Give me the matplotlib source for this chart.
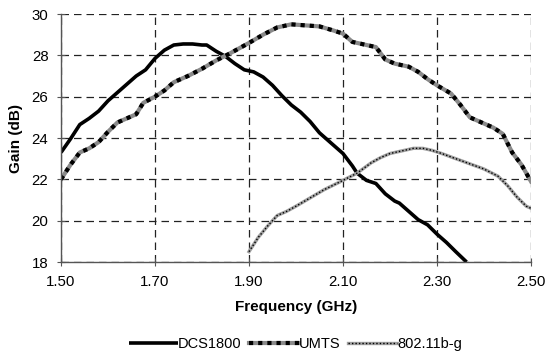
import numpy as np
import matplotlib.pyplot as plt

plt.rcParams['font.family'] = ['Liberation Sans', 'DejaVu Sans']

# DCS1800 band
dcs_f = [1.50, 1.52, 1.54, 1.56, 1.58, 1.60, 1.62, 1.64, 1.66, 1.68, 1.70, 1.72,
         1.74, 1.76, 1.78, 1.80, 1.81, 1.83, 1.85, 1.87, 1.89, 1.91, 1.93, 1.95,
         1.97, 1.99, 2.01, 2.03, 2.05, 2.07, 2.09, 2.10, 2.12, 2.13, 2.15, 2.17,
         2.19, 2.21, 2.22, 2.24, 2.26, 2.28, 2.30, 2.32, 2.34, 2.363]
dcs_g = [23.3, 23.95, 24.65, 24.95, 25.3, 25.8, 26.2, 26.6, 27.0, 27.3, 27.85, 28.25,
         28.5, 28.55, 28.55, 28.5, 28.5, 28.2, 27.95, 27.6, 27.3, 27.2, 26.95, 26.55,
         26.05, 25.6, 25.25, 24.8, 24.25, 23.85, 23.45, 23.25, 22.65, 22.3, 21.95, 21.8,
         21.3, 20.95, 20.85, 20.45, 20.05, 19.8, 19.35, 18.95, 18.5, 18.0]

# UMTS band
umts_f = [1.50, 1.52, 1.54, 1.56, 1.58, 1.60, 1.62, 1.64, 1.66, 1.675, 1.70, 1.72,
          1.74, 1.77, 1.80, 1.83, 1.86, 1.90, 1.93, 1.96, 1.99, 2.02, 2.05, 2.08,
          2.10, 2.12, 2.15, 2.17, 2.19, 2.21, 2.24, 2.26, 2.28, 2.30, 2.33, 2.35,
          2.37, 2.39, 2.42, 2.44, 2.46, 2.48, 2.50]
umts_g = [22.0, 22.7, 23.3, 23.5, 23.8, 24.3, 24.75, 24.95, 25.15, 25.7, 26.0, 26.3,
          26.7, 27.0, 27.35, 27.75, 28.1, 28.6, 29.0, 29.35, 29.5, 29.45, 29.4, 29.2,
          29.05, 28.65, 28.5, 28.4, 27.8, 27.6, 27.45, 27.2, 26.85, 26.55, 26.15, 25.6,
          25.0, 24.8, 24.5, 24.2, 23.3, 22.7, 21.9]

# 802.11b-g band
wlan_f = [1.90, 1.92, 1.94, 1.96, 1.98, 2.00, 2.03, 2.06, 2.10, 2.13, 2.16, 2.18,
          2.20, 2.23, 2.25, 2.27, 2.29, 2.31, 2.34, 2.37, 2.40, 2.43, 2.45, 2.47,
          2.49, 2.50]
wlan_g = [18.5, 19.2, 19.75, 20.25, 20.45, 20.7, 21.1, 21.5, 21.95, 22.3, 22.8, 23.05,
          23.25, 23.4, 23.5, 23.5, 23.4, 23.25, 23.0, 22.75, 22.5, 22.15, 21.7, 21.15,
          20.7, 20.6]

fig = plt.figure(figsize=(5.47, 3.62), dpi=100)
ax = fig.add_axes([0.1115, 0.2762, 0.8592, 0.6851])

h1, = ax.plot(dcs_f, dcs_g, color='black', lw=2.6, solid_capstyle='butt')
h2a, = ax.plot(umts_f, umts_g, color='#8a8a8a', lw=3.0)
h2b, = ax.plot(umts_f, umts_g, color='black', lw=3.0, dashes=(1.0, 1.2))
h3a, = ax.plot(wlan_f, wlan_g, color='#a0a0a0', lw=2.4)
h3b, = ax.plot(wlan_f, wlan_g, color='black', lw=1.0, dashes=(1.0, 1.5))

ax.set_xlim(1.5, 2.5)
ax.set_ylim(18, 30)
ax.set_xticks(np.arange(1.5, 2.51, 0.2))
ax.set_xticklabels(['1.50', '1.70', '1.90', '2.10', '2.30', '2.50'])
ax.set_yticks(np.arange(18, 31, 2))
ax.grid(True, color='#222222', linestyle=(0, (6, 4)), lw=0.9)
for s in ['top', 'right']:
    ax.spines[s].set_visible(False)
for s in ['left', 'bottom']:
    ax.spines[s].set_color('#555555')
    ax.spines[s].set_linewidth(1.0)
ax.tick_params(direction='inout', length=6, color='#555555', labelsize=10.8, pad=6)
ax.set_xlabel('Frequency (GHz)', fontsize=11, fontweight='bold', labelpad=8)
ax.set_ylabel('Gain (dB)', fontsize=11, fontweight='bold', labelpad=6)

fig.legend([h1, (h2a, h2b), (h3a, h3b)], ['DCS1800', 'UMTS', '802.11b-g'],
           loc='lower center', bbox_to_anchor=(0.54, -0.005), ncol=3, frameon=False,
           fontsize=10.5, handlelength=3.4, handletextpad=0.0, columnspacing=0.5)

fig.savefig('out.png', dpi=100)
